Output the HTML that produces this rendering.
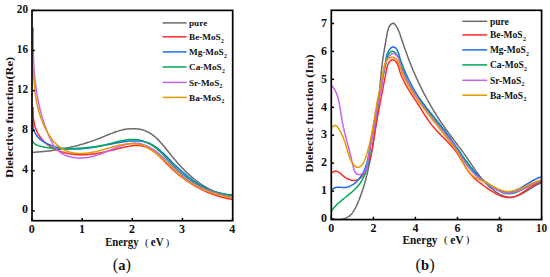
<!DOCTYPE html>
<html><head><meta charset="utf-8"><style>
html,body{margin:0;padding:0;background:#fff;width:550px;height:277px;overflow:hidden}
svg{display:block;position:absolute;left:0;top:0}
text{font-family:"Liberation Serif",serif}
</style></head><body>
<svg xmlns="http://www.w3.org/2000/svg" width="550" height="277" viewBox="0 0 550 277">
<defs><clipPath id="cl"><rect x="32" y="10.4" width="200.7" height="210.29999999999998"/></clipPath><clipPath id="cr"><rect x="331.3" y="10.3" width="210.3" height="209.29999999999998"/></clipPath></defs>
<g font-family="Liberation Serif, serif" font-weight="bold" fill="#111">
<g clip-path="url(#cl)" fill="none" stroke-width="1.5" stroke-linejoin="round" stroke-linecap="round"><path d="M32.5,152.4 L34.0,152.3 L35.6,152.2 L37.1,152.0 L38.6,151.9 L40.1,151.8 L41.6,151.7 L43.1,151.5 L44.6,151.4 L46.1,151.2 L47.6,151.0 L49.1,150.9 L50.6,150.7 L52.1,150.5 L53.6,150.3 L55.0,150.1 L56.5,149.8 L58.0,149.6 L59.4,149.4 L60.9,149.1 L62.4,148.9 L63.8,148.6 L65.3,148.3 L66.7,148.0 L68.2,147.7 L69.6,147.4 L71.1,147.1 L72.5,146.7 L74.0,146.4 L75.4,146.0 L76.8,145.7 L78.3,145.3 L79.7,144.9 L81.1,144.5 L82.6,144.1 L84.0,143.7 L85.4,143.2 L86.9,142.8 L88.3,142.3 L89.7,141.9 L91.1,141.4 L92.5,140.9 L94.0,140.4 L95.4,139.9 L96.8,139.4 L98.2,138.8 L99.6,138.3 L101.0,137.7 L102.4,137.1 L103.9,136.5 L105.3,135.9 L106.7,135.3 L108.1,134.8 L109.5,134.2 L110.9,133.6 L112.4,133.1 L113.8,132.5 L115.2,132.0 L116.7,131.5 L118.1,131.1 L119.6,130.6 L121.0,130.3 L122.5,129.9 L123.9,129.6 L125.4,129.3 L126.9,129.1 L128.4,128.9 L129.8,128.8 L131.3,128.7 L132.8,128.7 L134.3,128.7 L135.7,128.8 L137.2,128.9 L138.6,129.1 L140.0,129.3 L141.4,129.6 L142.8,130.0 L144.2,130.4 L145.5,130.9 L146.8,131.5 L148.1,132.1 L149.4,132.8 L150.6,133.5 L151.8,134.3 L153.0,135.2 L154.1,136.1 L155.2,137.0 L156.3,138.0 L157.4,139.1 L158.5,140.1 L159.5,141.2 L160.6,142.4 L161.6,143.5 L162.6,144.7 L163.6,145.9 L164.6,147.1 L165.6,148.3 L166.5,149.5 L167.5,150.7 L168.5,151.9 L169.4,153.1 L170.4,154.3 L171.3,155.5 L172.3,156.7 L173.3,157.8 L174.2,159.0 L175.2,160.1 L176.2,161.3 L177.1,162.4 L178.1,163.5 L179.1,164.6 L180.1,165.7 L181.1,166.8 L182.1,167.9 L183.2,168.9 L184.2,170.0 L185.3,171.1 L186.3,172.1 L187.4,173.1 L188.5,174.1 L189.6,175.2 L190.7,176.1 L191.8,177.1 L193.0,178.1 L194.1,179.0 L195.3,180.0 L196.5,180.9 L197.7,181.8 L198.9,182.7 L200.1,183.5 L201.3,184.4 L202.6,185.2 L203.8,186.0 L205.1,186.7 L206.4,187.5 L207.7,188.2 L209.0,188.9 L210.4,189.6 L211.7,190.2 L213.1,190.8 L214.4,191.4 L215.8,191.9 L217.2,192.4 L218.7,192.9 L220.1,193.3 L221.5,193.7 L223.0,194.1 L224.5,194.4 L225.9,194.7 L227.4,195.0 L229.0,195.2 L230.5,195.4 L232.0,195.5" stroke="#6b6b6b"/><path d="M33.1,107.5 L33.1,109.0 L33.1,110.4 L33.1,111.9 L33.2,113.4 L33.2,115.0 L33.3,116.5 L33.5,118.0 L33.6,119.5 L33.8,121.0 L34.1,122.5 L34.4,124.0 L34.7,125.5 L35.1,126.9 L35.6,128.3 L36.1,129.7 L36.7,131.1 L37.3,132.5 L38.0,133.8 L38.8,135.0 L39.6,136.3 L40.5,137.5 L41.4,138.6 L42.4,139.8 L43.4,140.9 L44.4,141.9 L45.6,142.9 L46.7,143.9 L47.9,144.8 L49.1,145.7 L50.3,146.5 L51.6,147.3 L52.9,148.0 L54.2,148.7 L55.6,149.4 L56.9,150.0 L58.3,150.6 L59.7,151.2 L61.1,151.7 L62.6,152.1 L64.0,152.5 L65.5,152.9 L67.0,153.3 L68.4,153.6 L69.9,153.9 L71.4,154.1 L72.9,154.3 L74.4,154.5 L75.9,154.6 L77.4,154.7 L78.9,154.8 L80.4,154.8 L81.8,154.8 L83.3,154.8 L84.8,154.8 L86.3,154.7 L87.7,154.6 L89.2,154.5 L90.7,154.3 L92.2,154.1 L93.6,153.9 L95.1,153.7 L96.6,153.5 L98.0,153.2 L99.5,153.0 L101.0,152.7 L102.4,152.4 L103.9,152.1 L105.4,151.8 L106.8,151.4 L108.3,151.1 L109.8,150.7 L111.3,150.4 L112.7,150.0 L114.2,149.6 L115.7,149.3 L117.2,148.9 L118.7,148.5 L120.2,148.1 L121.7,147.8 L123.2,147.4 L124.6,147.1 L126.1,146.7 L127.6,146.4 L129.1,146.2 L130.6,145.9 L132.1,145.7 L133.6,145.6 L135.0,145.5 L136.5,145.5 L138.0,145.5 L139.4,145.6 L140.8,145.8 L142.2,146.1 L143.6,146.4 L145.0,146.9 L146.4,147.4 L147.7,147.9 L149.0,148.6 L150.3,149.3 L151.6,150.0 L152.8,150.8 L154.0,151.7 L155.1,152.6 L156.3,153.5 L157.4,154.5 L158.6,155.5 L159.7,156.5 L160.7,157.6 L161.8,158.7 L162.9,159.8 L164.0,160.9 L165.0,162.0 L166.1,163.1 L167.2,164.2 L168.3,165.3 L169.4,166.3 L170.5,167.4 L171.6,168.4 L172.7,169.5 L173.8,170.5 L174.9,171.5 L176.1,172.5 L177.2,173.5 L178.4,174.4 L179.5,175.4 L180.7,176.3 L181.9,177.2 L183.1,178.1 L184.3,179.0 L185.5,179.9 L186.7,180.8 L187.9,181.6 L189.2,182.4 L190.4,183.2 L191.7,184.0 L192.9,184.8 L194.2,185.5 L195.5,186.3 L196.8,187.0 L198.1,187.7 L199.4,188.4 L200.7,189.1 L202.0,189.7 L203.4,190.4 L204.7,191.0 L206.1,191.6 L207.4,192.2 L208.8,192.8 L210.2,193.3 L211.6,193.9 L213.0,194.4 L214.4,194.9 L215.8,195.3 L217.3,195.8 L218.7,196.2 L220.1,196.7 L221.6,197.1 L223.1,197.5 L224.6,197.8 L226.0,198.2 L227.5,198.5 L229.0,198.8 L230.6,199.1 L232.1,199.4" stroke="#ff2a2a"/><path d="M33.2,120.8 L33.0,122.5 L33.0,124.1 L33.0,125.7 L33.2,127.2 L33.5,128.7 L33.9,130.1 L34.4,131.5 L35.0,132.8 L35.7,134.1 L36.5,135.3 L37.4,136.5 L38.3,137.6 L39.4,138.6 L40.5,139.6 L41.7,140.5 L42.9,141.3 L44.2,142.1 L45.5,142.9 L46.9,143.6 L48.3,144.2 L49.7,144.8 L51.2,145.4 L52.6,145.9 L54.1,146.4 L55.6,146.8 L57.0,147.2 L58.5,147.5 L59.9,147.8 L61.4,148.1 L62.9,148.3 L64.3,148.5 L65.8,148.7 L67.2,148.9 L68.7,149.0 L70.2,149.0 L71.6,149.1 L73.1,149.1 L74.6,149.1 L76.0,149.1 L77.5,149.0 L79.0,149.0 L80.5,148.9 L81.9,148.8 L83.4,148.6 L84.9,148.5 L86.4,148.3 L87.8,148.1 L89.3,147.9 L90.8,147.7 L92.3,147.5 L93.8,147.2 L95.2,147.0 L96.7,146.7 L98.2,146.5 L99.7,146.2 L101.2,145.9 L102.7,145.6 L104.2,145.3 L105.7,145.1 L107.2,144.8 L108.7,144.5 L110.2,144.2 L111.7,143.9 L113.2,143.6 L114.7,143.3 L116.2,143.1 L117.8,142.8 L119.3,142.5 L120.8,142.3 L122.3,142.0 L123.8,141.8 L125.4,141.6 L126.9,141.4 L128.4,141.2 L129.9,141.1 L131.4,141.0 L132.9,140.9 L134.4,140.9 L135.9,140.9 L137.3,140.9 L138.8,141.0 L140.2,141.1 L141.7,141.3 L143.1,141.5 L144.5,141.8 L145.8,142.1 L147.2,142.5 L148.5,143.0 L149.8,143.5 L151.1,144.1 L152.4,144.8 L153.6,145.5 L154.8,146.3 L156.1,147.1 L157.2,148.0 L158.4,149.0 L159.6,149.9 L160.7,151.0 L161.8,152.0 L163.0,153.0 L164.1,154.1 L165.2,155.2 L166.3,156.3 L167.4,157.4 L168.5,158.5 L169.6,159.6 L170.7,160.7 L171.7,161.8 L172.8,162.9 L173.9,164.0 L175.0,165.0 L176.1,166.1 L177.2,167.2 L178.4,168.2 L179.5,169.2 L180.6,170.2 L181.7,171.3 L182.8,172.2 L183.9,173.2 L185.1,174.2 L186.2,175.1 L187.4,176.1 L188.5,177.0 L189.7,177.9 L190.9,178.8 L192.0,179.7 L193.2,180.5 L194.4,181.4 L195.6,182.2 L196.9,183.0 L198.1,183.8 L199.3,184.5 L200.6,185.3 L201.9,186.0 L203.1,186.7 L204.4,187.4 L205.7,188.0 L207.1,188.6 L208.4,189.2 L209.8,189.8 L211.1,190.4 L212.5,190.9 L213.9,191.4 L215.3,191.8 L216.8,192.3 L218.2,192.7 L219.7,193.1 L221.2,193.4 L222.7,193.7 L224.2,194.0 L225.8,194.3 L227.4,194.5 L229.0,194.7 L230.6,194.8 L232.2,195.0" stroke="#1a6fe8"/><path d="M32.5,141.2 L33.3,142.5 L34.3,143.5 L35.4,144.4 L36.7,145.0 L38.1,145.6 L39.5,146.0 L40.9,146.3 L42.4,146.7 L43.9,147.0 L45.3,147.3 L46.8,147.5 L48.3,147.7 L49.8,147.9 L51.3,148.1 L52.8,148.2 L54.3,148.3 L55.8,148.5 L57.3,148.5 L58.8,148.6 L60.3,148.6 L61.8,148.7 L63.4,148.7 L64.9,148.7 L66.4,148.7 L67.9,148.7 L69.4,148.6 L70.9,148.6 L72.4,148.5 L73.9,148.5 L75.4,148.4 L76.9,148.3 L78.4,148.3 L79.9,148.2 L81.4,148.1 L82.8,148.0 L84.3,147.9 L85.8,147.7 L87.3,147.6 L88.7,147.5 L90.2,147.3 L91.7,147.1 L93.2,147.0 L94.6,146.8 L96.1,146.5 L97.6,146.3 L99.0,146.1 L100.5,145.8 L102.0,145.5 L103.5,145.2 L104.9,144.9 L106.4,144.5 L107.9,144.1 L109.4,143.8 L110.9,143.4 L112.4,143.0 L113.9,142.6 L115.3,142.2 L116.8,141.8 L118.3,141.4 L119.8,141.1 L121.3,140.7 L122.8,140.4 L124.3,140.2 L125.7,139.9 L127.2,139.7 L128.7,139.5 L130.2,139.4 L131.6,139.4 L133.1,139.4 L134.6,139.4 L136.0,139.6 L137.5,139.7 L138.9,140.0 L140.3,140.3 L141.8,140.7 L143.2,141.1 L144.6,141.6 L145.9,142.2 L147.3,142.8 L148.6,143.4 L150.0,144.1 L151.3,144.8 L152.5,145.6 L153.8,146.4 L155.0,147.3 L156.2,148.2 L157.3,149.1 L158.4,150.1 L159.6,151.1 L160.6,152.1 L161.7,153.2 L162.8,154.2 L163.8,155.3 L164.8,156.4 L165.9,157.5 L166.9,158.6 L167.9,159.8 L168.9,160.9 L170.0,162.0 L171.0,163.1 L172.0,164.2 L173.1,165.3 L174.1,166.4 L175.2,167.4 L176.3,168.5 L177.4,169.5 L178.5,170.5 L179.6,171.5 L180.8,172.5 L181.9,173.5 L183.1,174.5 L184.2,175.4 L185.4,176.3 L186.6,177.3 L187.8,178.2 L189.0,179.0 L190.3,179.9 L191.5,180.7 L192.7,181.5 L194.0,182.3 L195.3,183.1 L196.5,183.9 L197.8,184.6 L199.1,185.3 L200.5,186.0 L201.8,186.7 L203.1,187.4 L204.5,188.0 L205.8,188.6 L207.2,189.2 L208.6,189.7 L210.0,190.3 L211.4,190.8 L212.8,191.3 L214.2,191.7 L215.6,192.1 L217.1,192.5 L218.5,192.9 L220.0,193.3 L221.4,193.6 L222.9,193.9 L224.4,194.1 L225.9,194.4 L227.4,194.6 L229.0,194.7 L230.5,194.9 L232.0,195.0" stroke="#00a859"/><path d="M33.2,28.0 L33.2,29.5 L33.2,31.0 L33.2,32.5 L33.2,34.0 L33.1,35.5 L33.1,37.0 L33.1,38.5 L33.1,40.0 L33.1,41.5 L33.2,43.0 L33.2,44.5 L33.2,46.0 L33.2,47.5 L33.2,49.0 L33.3,50.5 L33.3,52.0 L33.3,53.5 L33.4,55.0 L33.4,56.5 L33.5,58.0 L33.5,59.5 L33.6,61.0 L33.7,62.5 L33.8,64.0 L33.8,65.5 L33.9,67.0 L34.0,68.5 L34.1,70.0 L34.2,71.5 L34.4,72.9 L34.5,74.4 L34.6,75.9 L34.8,77.4 L34.9,78.9 L35.1,80.4 L35.2,81.9 L35.4,83.4 L35.6,84.9 L35.8,86.3 L36.0,87.8 L36.2,89.3 L36.4,90.8 L36.6,92.3 L36.9,93.7 L37.1,95.2 L37.4,96.7 L37.6,98.1 L37.9,99.6 L38.2,101.1 L38.5,102.5 L38.8,104.0 L39.1,105.4 L39.5,106.9 L39.8,108.3 L40.2,109.8 L40.5,111.2 L40.9,112.7 L41.3,114.1 L41.7,115.5 L42.1,117.0 L42.6,118.4 L43.0,119.8 L43.5,121.3 L43.9,122.7 L44.4,124.1 L44.9,125.5 L45.4,126.9 L45.9,128.3 L46.5,129.8 L47.0,131.2 L47.6,132.6 L48.2,134.0 L48.7,135.4 L49.4,136.9 L50.0,138.3 L50.6,139.7 L51.3,141.1 L52.0,142.4 L52.7,143.8 L53.5,145.1 L54.3,146.3 L55.2,147.5 L56.1,148.6 L57.1,149.7 L58.2,150.7 L59.3,151.6 L60.4,152.5 L61.6,153.3 L62.9,154.0 L64.2,154.7 L65.5,155.3 L66.9,155.8 L68.3,156.3 L69.7,156.7 L71.1,157.1 L72.6,157.4 L74.1,157.6 L75.6,157.8 L77.1,157.9 L78.6,158.0 L80.1,158.0 L81.6,158.0 L83.2,157.9 L84.7,157.8 L86.1,157.7 L87.6,157.4 L89.1,157.2 L90.5,156.9 L92.0,156.6 L93.4,156.2 L94.8,155.8 L96.3,155.4 L97.7,154.9 L99.1,154.5 L100.5,154.0 L101.9,153.4 L103.3,152.9 L104.7,152.3 L106.1,151.8 L107.5,151.2 L108.9,150.6 L110.3,150.0 L111.8,149.5 L113.2,148.9 L114.6,148.3 L116.1,147.7 L117.5,147.2 L119.0,146.6 L120.4,146.1 L121.9,145.6 L123.3,145.2 L124.8,144.7 L126.3,144.4 L127.7,144.0 L129.2,143.7 L130.7,143.5 L132.2,143.3 L133.6,143.2 L135.1,143.1 L136.5,143.2 L138.0,143.3 L139.4,143.5 L140.8,143.8 L142.1,144.1 L143.5,144.6 L144.9,145.1 L146.2,145.6 L147.5,146.2 L148.8,146.9 L150.1,147.6 L151.4,148.3 L152.7,149.1 L153.9,149.9 L155.2,150.8 L156.4,151.7 L157.6,152.6 L158.8,153.6 L159.9,154.6 L161.1,155.5 L162.2,156.6 L163.3,157.6 L164.4,158.6 L165.5,159.6 L166.6,160.7 L167.7,161.7 L168.8,162.8 L169.8,163.9 L170.9,164.9 L172.0,166.0 L173.1,167.0 L174.1,168.1 L175.2,169.1 L176.3,170.2 L177.4,171.2 L178.5,172.2 L179.6,173.2 L180.7,174.2 L181.8,175.2 L182.9,176.2 L184.1,177.1 L185.3,178.0 L186.5,178.9 L187.7,179.8 L188.9,180.6 L190.2,181.4 L191.4,182.2 L192.7,183.0 L194.0,183.8 L195.3,184.5 L196.6,185.2 L197.9,185.9 L199.3,186.6 L200.6,187.3 L202.0,187.9 L203.4,188.5 L204.8,189.1 L206.1,189.7 L207.5,190.2 L208.9,190.8 L210.4,191.3 L211.8,191.8 L213.2,192.3 L214.6,192.8 L216.1,193.2 L217.5,193.7 L219.0,194.1 L220.4,194.5 L221.9,194.9 L223.3,195.3 L224.8,195.6 L226.2,196.0 L227.6,196.3 L229.1,196.6 L230.5,196.9 L232.0,197.2" stroke="#c266f0"/><path d="M33.0,60.9 L33.1,62.4 L33.2,64.0 L33.2,65.5 L33.3,67.0 L33.4,68.5 L33.4,70.0 L33.5,71.6 L33.6,73.1 L33.7,74.6 L33.7,76.1 L33.8,77.6 L33.9,79.1 L34.0,80.5 L34.1,82.0 L34.3,83.5 L34.4,85.0 L34.5,86.5 L34.7,87.9 L34.8,89.4 L35.0,90.9 L35.1,92.4 L35.3,93.8 L35.5,95.3 L35.7,96.7 L36.0,98.2 L36.2,99.6 L36.5,101.1 L36.8,102.5 L37.0,104.0 L37.4,105.4 L37.7,106.9 L38.0,108.3 L38.4,109.7 L38.8,111.2 L39.2,112.6 L39.6,114.0 L40.1,115.5 L40.5,116.9 L41.0,118.3 L41.6,119.7 L42.1,121.2 L42.7,122.6 L43.3,124.0 L43.9,125.4 L44.5,126.8 L45.2,128.2 L45.9,129.6 L46.6,131.0 L47.4,132.4 L48.2,133.7 L49.0,135.0 L49.8,136.3 L50.7,137.6 L51.6,138.8 L52.5,140.0 L53.5,141.2 L54.5,142.3 L55.5,143.4 L56.5,144.4 L57.6,145.4 L58.7,146.4 L59.9,147.2 L61.0,148.1 L62.2,148.8 L63.5,149.5 L64.7,150.2 L66.0,150.8 L67.3,151.3 L68.7,151.7 L70.0,152.1 L71.4,152.5 L72.8,152.7 L74.3,153.0 L75.7,153.2 L77.2,153.3 L78.6,153.4 L80.1,153.4 L81.6,153.4 L83.1,153.4 L84.6,153.3 L86.2,153.2 L87.7,153.0 L89.2,152.8 L90.7,152.6 L92.2,152.3 L93.8,152.0 L95.3,151.7 L96.8,151.4 L98.3,151.0 L99.7,150.6 L101.2,150.2 L102.7,149.8 L104.2,149.4 L105.6,149.0 L107.1,148.5 L108.6,148.1 L110.0,147.7 L111.5,147.3 L112.9,146.8 L114.4,146.4 L115.9,146.0 L117.3,145.7 L118.8,145.3 L120.2,145.0 L121.7,144.7 L123.2,144.5 L124.6,144.2 L126.1,144.0 L127.6,143.9 L129.0,143.8 L130.5,143.7 L132.0,143.7 L133.5,143.8 L135.0,143.9 L136.4,144.0 L137.9,144.3 L139.3,144.5 L140.7,144.9 L142.1,145.3 L143.4,145.8 L144.8,146.3 L146.1,146.9 L147.4,147.6 L148.7,148.3 L150.0,149.0 L151.2,149.8 L152.4,150.6 L153.7,151.5 L154.9,152.4 L156.0,153.3 L157.2,154.2 L158.4,155.2 L159.5,156.2 L160.7,157.2 L161.8,158.2 L162.9,159.2 L164.1,160.3 L165.2,161.3 L166.3,162.4 L167.4,163.4 L168.5,164.4 L169.6,165.5 L170.7,166.5 L171.8,167.5 L172.8,168.6 L173.9,169.6 L175.0,170.6 L176.1,171.6 L177.2,172.6 L178.4,173.6 L179.5,174.6 L180.6,175.5 L181.7,176.5 L182.9,177.4 L184.0,178.3 L185.2,179.2 L186.4,180.1 L187.6,181.0 L188.8,181.8 L190.0,182.6 L191.3,183.4 L192.5,184.2 L193.8,185.0 L195.1,185.7 L196.5,186.4 L197.8,187.1 L199.1,187.7 L200.5,188.4 L201.9,189.0 L203.3,189.6 L204.7,190.2 L206.1,190.7 L207.5,191.3 L208.9,191.8 L210.3,192.3 L211.8,192.8 L213.2,193.2 L214.7,193.7 L216.1,194.1 L217.6,194.5 L219.0,194.9 L220.5,195.3 L221.9,195.7 L223.4,196.0 L224.8,196.4 L226.3,196.7 L227.7,197.0 L229.1,197.3 L230.6,197.6 L232.0,197.9" stroke="#e69a00"/></g>
<g clip-path="url(#cr)" fill="none" stroke-width="1.5" stroke-linejoin="round" stroke-linecap="round"><path d="M331.8,219.3 L333.2,219.4 L334.6,219.4 L336.1,219.5 L337.6,219.4 L339.2,219.4 L340.8,219.2 L342.4,219.0 L343.9,218.6 L345.4,218.2 L346.7,217.6 L348.0,216.9 L349.2,216.1 L350.2,215.2 L351.3,214.2 L352.2,213.1 L353.1,211.9 L353.9,210.7 L354.6,209.4 L355.4,208.1 L356.0,206.8 L356.7,205.4 L357.3,204.0 L357.9,202.6 L358.5,201.2 L359.1,199.8 L359.6,198.4 L360.2,196.9 L360.7,195.5 L361.2,194.1 L361.7,192.7 L362.2,191.3 L362.7,189.8 L363.1,188.4 L363.6,187.0 L364.0,185.5 L364.4,184.1 L364.9,182.7 L365.3,181.2 L365.7,179.8 L366.0,178.3 L366.4,176.9 L366.8,175.4 L367.1,174.0 L367.5,172.5 L367.8,171.1 L368.1,169.6 L368.5,168.2 L368.8,166.7 L369.1,165.3 L369.4,163.8 L369.7,162.3 L370.0,160.9 L370.2,159.4 L370.5,157.9 L370.8,156.5 L371.1,155.0 L371.4,153.5 L371.6,152.1 L371.9,150.6 L372.1,149.1 L372.4,147.7 L372.7,146.2 L372.9,144.7 L373.2,143.2 L373.4,141.8 L373.7,140.3 L373.9,138.8 L374.1,137.3 L374.4,135.9 L374.6,134.4 L374.8,132.9 L375.0,131.4 L375.3,129.9 L375.5,128.5 L375.7,127.0 L375.9,125.5 L376.1,124.0 L376.3,122.5 L376.5,121.0 L376.7,119.6 L376.9,118.1 L377.1,116.6 L377.2,115.1 L377.4,113.6 L377.6,112.1 L377.8,110.6 L377.9,109.1 L378.1,107.7 L378.2,106.2 L378.4,104.7 L378.5,103.2 L378.7,101.7 L378.8,100.2 L378.9,98.7 L379.1,97.2 L379.2,95.7 L379.3,94.2 L379.4,92.7 L379.6,91.2 L379.7,89.7 L379.8,88.2 L379.9,86.7 L380.1,85.2 L380.2,83.8 L380.3,82.3 L380.5,80.8 L380.6,79.3 L380.7,77.8 L380.9,76.3 L381.0,74.8 L381.2,73.3 L381.3,71.8 L381.5,70.4 L381.6,68.9 L381.8,67.4 L382.0,65.9 L382.1,64.4 L382.3,63.0 L382.5,61.5 L382.7,60.0 L382.9,58.5 L383.2,57.1 L383.4,55.6 L383.6,54.1 L383.8,52.6 L384.1,51.2 L384.3,49.7 L384.6,48.2 L384.8,46.7 L385.1,45.3 L385.3,43.8 L385.6,42.3 L385.9,40.8 L386.1,39.3 L386.4,37.8 L386.7,36.3 L386.9,34.8 L387.2,33.3 L387.5,31.8 L387.9,30.3 L388.3,28.9 L388.8,27.5 L389.5,26.2 L390.4,25.0 L391.5,23.9 L392.7,23.3 L393.8,23.4 L394.8,24.2 L395.8,25.4 L396.6,26.8 L397.4,28.1 L398.1,29.5 L398.7,30.9 L399.2,32.3 L399.8,33.7 L400.3,35.1 L400.7,36.5 L401.2,37.9 L401.7,39.4 L402.2,40.8 L402.6,42.2 L403.1,43.6 L403.6,45.0 L404.1,46.4 L404.6,47.9 L405.1,49.3 L405.6,50.7 L406.1,52.1 L406.6,53.5 L407.1,54.9 L407.6,56.3 L408.2,57.8 L408.7,59.2 L409.2,60.6 L409.8,62.0 L410.3,63.4 L410.9,64.7 L411.4,66.1 L412.0,67.5 L412.6,68.9 L413.1,70.3 L413.7,71.7 L414.3,73.0 L414.9,74.4 L415.5,75.8 L416.1,77.1 L416.7,78.5 L417.4,79.9 L418.0,81.2 L418.6,82.6 L419.3,83.9 L419.9,85.3 L420.6,86.6 L421.2,87.9 L421.9,89.3 L422.6,90.6 L423.2,91.9 L423.9,93.3 L424.6,94.6 L425.3,95.9 L426.0,97.2 L426.7,98.5 L427.4,99.8 L428.2,101.1 L428.9,102.4 L429.6,103.7 L430.4,105.0 L431.1,106.3 L431.9,107.6 L432.6,108.9 L433.4,110.2 L434.2,111.5 L435.0,112.7 L435.7,114.0 L436.5,115.3 L437.3,116.5 L438.1,117.8 L439.0,119.0 L439.8,120.3 L440.6,121.6 L441.5,122.8 L442.3,124.0 L443.1,125.3 L444.0,126.5 L444.9,127.8 L445.7,129.0 L446.6,130.2 L447.5,131.4 L448.4,132.6 L449.3,133.9 L450.2,135.1 L451.1,136.3 L452.0,137.5 L452.9,138.7 L453.8,139.9 L454.7,141.1 L455.6,142.3 L456.5,143.5 L457.4,144.7 L458.3,145.9 L459.2,147.1 L460.1,148.3 L461.0,149.5 L461.9,150.7 L462.8,151.9 L463.6,153.1 L464.5,154.3 L465.3,155.5 L466.2,156.7 L467.0,157.9 L467.8,159.1 L468.6,160.3 L469.4,161.5 L470.2,162.7 L471.0,163.9 L471.9,165.1 L472.7,166.3 L473.5,167.5 L474.3,168.7 L475.2,169.9 L476.0,171.1 L476.9,172.3 L477.8,173.5 L478.7,174.7 L479.6,175.9 L480.6,177.1 L481.5,178.3 L482.5,179.4 L483.5,180.6 L484.6,181.8 L485.7,183.0 L486.8,184.1 L487.9,185.2 L489.1,186.4 L490.3,187.4 L491.5,188.5 L492.7,189.5 L494.0,190.5 L495.2,191.4 L496.5,192.3 L497.8,193.1 L499.1,193.9 L500.4,194.6 L501.8,195.2 L503.1,195.8 L504.5,196.2 L505.8,196.6 L507.2,196.9 L508.5,197.1 L509.9,197.2 L511.2,197.2 L512.6,197.1 L514.0,196.8 L515.3,196.5 L516.7,196.1 L518.0,195.6 L519.4,195.0 L520.7,194.4 L522.0,193.7 L523.4,193.0 L524.7,192.2 L526.0,191.4 L527.4,190.6 L528.7,189.7 L530.0,188.9 L531.3,188.1 L532.7,187.3 L534.0,186.5 L535.3,185.7 L536.6,185.0 L537.9,184.3 L539.2,183.7 L540.5,183.2" stroke="#6b6b6b"/><path d="M331.7,172.8 L333.3,171.8 L334.7,171.3 L336.1,171.3 L337.4,171.5 L338.6,172.1 L339.7,172.9 L340.9,173.8 L342.0,174.9 L343.2,175.9 L344.5,176.9 L345.8,177.8 L347.2,178.6 L348.7,179.3 L350.2,179.8 L351.6,180.2 L353.1,180.4 L354.5,180.5 L355.8,180.3 L357.1,179.9 L358.3,179.4 L359.4,178.7 L360.5,177.9 L361.5,176.9 L362.4,175.8 L363.3,174.6 L364.2,173.3 L365.0,172.0 L365.7,170.6 L366.4,169.1 L367.0,167.7 L367.6,166.2 L368.2,164.7 L368.7,163.2 L369.2,161.8 L369.6,160.3 L370.1,158.8 L370.4,157.4 L370.8,155.9 L371.1,154.4 L371.4,153.0 L371.7,151.5 L372.0,150.1 L372.3,148.6 L372.5,147.1 L372.8,145.7 L373.0,144.2 L373.2,142.8 L373.4,141.3 L373.6,139.8 L373.9,138.4 L374.1,136.9 L374.3,135.5 L374.5,134.0 L374.8,132.5 L375.0,131.1 L375.2,129.6 L375.5,128.2 L375.7,126.7 L376.0,125.2 L376.3,123.8 L376.5,122.3 L376.8,120.8 L377.0,119.4 L377.3,117.9 L377.6,116.4 L377.8,115.0 L378.1,113.5 L378.4,112.0 L378.7,110.6 L378.9,109.1 L379.2,107.6 L379.5,106.1 L379.8,104.7 L380.1,103.2 L380.4,101.7 L380.7,100.2 L380.9,98.8 L381.2,97.3 L381.5,95.8 L381.8,94.3 L382.1,92.8 L382.4,91.4 L382.7,89.9 L383.0,88.4 L383.2,86.9 L383.5,85.4 L383.8,83.9 L384.1,82.4 L384.4,80.9 L384.7,79.4 L385.0,78.0 L385.2,76.5 L385.5,75.0 L385.8,73.5 L386.1,72.0 L386.3,70.5 L386.6,69.0 L386.9,67.5 L387.3,66.1 L387.8,64.7 L388.4,63.4 L389.1,62.2 L390.0,61.1 L391.0,60.2 L392.1,59.7 L393.3,59.8 L394.5,60.3 L395.6,61.3 L396.5,62.5 L397.3,63.8 L397.9,65.3 L398.5,66.9 L399.0,68.5 L399.5,70.0 L399.9,71.5 L400.4,73.0 L400.9,74.4 L401.4,75.8 L402.0,77.1 L402.6,78.5 L403.2,79.8 L403.8,81.2 L404.5,82.5 L405.2,83.8 L405.9,85.1 L406.6,86.4 L407.4,87.7 L408.1,88.9 L408.9,90.2 L409.7,91.4 L410.5,92.7 L411.3,94.0 L412.1,95.2 L413.0,96.5 L413.8,97.7 L414.6,99.0 L415.5,100.2 L416.3,101.5 L417.1,102.7 L417.9,104.0 L418.7,105.3 L419.5,106.6 L420.3,107.8 L421.1,109.1 L421.9,110.4 L422.7,111.7 L423.5,113.0 L424.3,114.3 L425.1,115.5 L426.0,116.8 L426.8,118.0 L427.6,119.3 L428.5,120.5 L429.3,121.7 L430.2,122.9 L431.1,124.1 L432.0,125.3 L433.0,126.4 L433.9,127.6 L434.9,128.7 L435.9,129.8 L436.9,130.9 L438.0,132.0 L439.0,133.1 L440.0,134.1 L441.1,135.2 L442.1,136.3 L443.2,137.3 L444.2,138.4 L445.3,139.4 L446.3,140.5 L447.4,141.6 L448.4,142.7 L449.4,143.8 L450.4,144.9 L451.4,146.0 L452.4,147.1 L453.4,148.3 L454.3,149.4 L455.2,150.6 L456.1,151.8 L457.0,153.1 L457.8,154.3 L458.6,155.6 L459.4,156.9 L460.2,158.2 L461.0,159.5 L461.8,160.8 L462.5,162.1 L463.3,163.4 L464.1,164.7 L464.9,166.0 L465.7,167.3 L466.5,168.5 L467.3,169.8 L468.1,171.0 L469.0,172.2 L469.9,173.3 L470.8,174.5 L471.8,175.5 L472.8,176.6 L473.8,177.6 L474.9,178.6 L476.0,179.6 L477.1,180.6 L478.2,181.5 L479.4,182.4 L480.6,183.3 L481.8,184.2 L483.0,185.1 L484.3,186.0 L485.5,187.0 L486.8,187.9 L488.1,188.8 L489.4,189.7 L490.8,190.6 L492.1,191.4 L493.5,192.2 L494.8,193.0 L496.2,193.8 L497.6,194.5 L498.9,195.1 L500.3,195.7 L501.7,196.2 L503.1,196.7 L504.5,197.0 L505.9,197.3 L507.2,197.5 L508.6,197.6 L510.0,197.5 L511.3,197.4 L512.7,197.1 L514.0,196.8 L515.4,196.3 L516.7,195.7 L518.0,195.1 L519.4,194.4 L520.7,193.6 L522.0,192.8 L523.3,192.0 L524.6,191.1 L525.9,190.2 L527.2,189.3 L528.5,188.4 L529.8,187.5 L531.2,186.7 L532.5,185.9 L533.8,185.1 L535.1,184.5 L536.5,183.9 L537.8,183.3 L539.2,182.9 L540.5,182.6" stroke="#ff2a2a"/><path d="M331.8,190.1 L333.0,188.8 L334.3,188.0 L335.6,187.5 L337.0,187.3 L338.5,187.2 L340.0,187.3 L341.5,187.4 L343.0,187.5 L344.5,187.5 L346.0,187.4 L347.4,187.1 L348.8,186.7 L350.2,186.1 L351.5,185.4 L352.8,184.7 L354.0,183.8 L355.2,182.8 L356.4,181.8 L357.4,180.7 L358.5,179.6 L359.5,178.4 L360.4,177.2 L361.2,175.9 L362.0,174.7 L362.7,173.4 L363.4,172.1 L364.1,170.7 L364.6,169.4 L365.2,168.0 L365.7,166.6 L366.1,165.2 L366.6,163.8 L367.0,162.4 L367.3,161.0 L367.7,159.5 L368.0,158.1 L368.3,156.6 L368.6,155.1 L368.9,153.7 L369.1,152.2 L369.4,150.7 L369.6,149.2 L369.9,147.8 L370.1,146.3 L370.4,144.8 L370.6,143.3 L370.9,141.9 L371.2,140.4 L371.4,138.9 L371.7,137.5 L371.9,136.0 L372.2,134.5 L372.4,133.1 L372.7,131.6 L373.0,130.1 L373.2,128.7 L373.5,127.2 L373.7,125.7 L374.0,124.2 L374.3,122.8 L374.5,121.3 L374.8,119.8 L375.0,118.3 L375.3,116.8 L375.6,115.3 L375.8,113.9 L376.1,112.4 L376.4,110.9 L376.6,109.4 L376.9,107.9 L377.2,106.5 L377.4,105.0 L377.7,103.5 L378.0,102.0 L378.2,100.5 L378.5,99.1 L378.8,97.6 L379.1,96.1 L379.3,94.6 L379.6,93.2 L379.9,91.7 L380.2,90.3 L380.5,88.8 L380.7,87.4 L381.0,85.9 L381.3,84.5 L381.6,83.0 L381.9,81.6 L382.2,80.1 L382.5,78.7 L382.8,77.2 L383.0,75.7 L383.3,74.3 L383.6,72.8 L383.9,71.3 L384.2,69.8 L384.4,68.3 L384.7,66.8 L384.9,65.3 L385.2,63.8 L385.5,62.2 L385.7,60.7 L386.0,59.1 L386.3,57.6 L386.6,56.1 L387.0,54.6 L387.5,53.2 L388.1,51.9 L388.7,50.6 L389.5,49.5 L390.5,48.4 L391.6,47.5 L392.7,47.0 L393.8,47.0 L395.0,47.5 L396.0,48.4 L396.9,49.6 L397.6,51.0 L398.2,52.4 L398.8,54.0 L399.2,55.6 L399.7,57.2 L400.2,58.7 L400.6,60.2 L401.1,61.6 L401.6,63.0 L402.1,64.4 L402.7,65.8 L403.2,67.2 L403.7,68.5 L404.3,69.8 L404.9,71.2 L405.4,72.5 L406.0,73.9 L406.6,75.2 L407.3,76.6 L407.9,77.9 L408.5,79.3 L409.2,80.6 L409.9,82.0 L410.6,83.3 L411.3,84.7 L412.0,86.0 L412.7,87.3 L413.5,88.7 L414.2,90.0 L415.0,91.3 L415.8,92.5 L416.6,93.8 L417.4,95.1 L418.2,96.3 L419.1,97.6 L419.9,98.8 L420.8,100.0 L421.6,101.2 L422.5,102.4 L423.4,103.6 L424.3,104.8 L425.2,106.0 L426.1,107.2 L427.0,108.4 L428.0,109.6 L428.9,110.7 L429.8,111.9 L430.8,113.1 L431.7,114.2 L432.6,115.4 L433.6,116.6 L434.5,117.7 L435.5,118.9 L436.4,120.0 L437.4,121.2 L438.3,122.4 L439.2,123.5 L440.2,124.7 L441.1,125.9 L442.0,127.1 L442.9,128.2 L443.9,129.4 L444.8,130.6 L445.7,131.8 L446.5,133.0 L447.4,134.2 L448.3,135.5 L449.2,136.7 L450.1,137.9 L450.9,139.1 L451.8,140.4 L452.6,141.6 L453.5,142.8 L454.4,144.1 L455.2,145.3 L456.1,146.6 L456.9,147.8 L457.8,149.0 L458.6,150.3 L459.5,151.5 L460.3,152.7 L461.2,154.0 L462.0,155.2 L462.9,156.4 L463.8,157.6 L464.6,158.8 L465.5,160.1 L466.4,161.3 L467.3,162.5 L468.1,163.6 L469.0,164.8 L469.9,166.0 L470.8,167.2 L471.8,168.3 L472.7,169.5 L473.6,170.6 L474.6,171.7 L475.5,172.8 L476.5,173.9 L477.5,175.0 L478.5,176.1 L479.5,177.2 L480.6,178.2 L481.6,179.3 L482.8,180.3 L483.9,181.3 L485.1,182.3 L486.3,183.3 L487.5,184.2 L488.8,185.1 L490.1,186.0 L491.4,186.9 L492.8,187.7 L494.2,188.4 L495.5,189.1 L496.9,189.8 L498.4,190.3 L499.8,190.8 L501.2,191.2 L502.6,191.6 L504.0,191.8 L505.5,192.0 L506.9,192.1 L508.3,192.0 L509.7,191.9 L511.1,191.6 L512.5,191.3 L513.9,190.9 L515.2,190.4 L516.6,189.8 L517.9,189.2 L519.3,188.6 L520.6,187.8 L522.0,187.1 L523.3,186.3 L524.6,185.5 L526.0,184.7 L527.3,183.9 L528.6,183.1 L530.0,182.3 L531.3,181.5 L532.6,180.7 L533.9,180.0 L535.3,179.3 L536.6,178.6 L537.9,178.0 L539.2,177.5 L540.6,177.0" stroke="#1a6fe8"/><path d="M331.9,210.5 L332.7,209.3 L333.6,208.1 L334.6,207.0 L335.6,205.9 L336.6,204.8 L337.7,203.8 L338.8,202.8 L339.9,201.8 L341.1,200.8 L342.2,199.8 L343.4,198.9 L344.6,198.0 L345.8,197.0 L347.0,196.1 L348.2,195.1 L349.4,194.2 L350.5,193.2 L351.7,192.3 L352.8,191.3 L353.9,190.3 L355.0,189.2 L356.0,188.2 L357.0,187.1 L358.0,185.9 L358.9,184.8 L359.8,183.6 L360.6,182.3 L361.4,181.1 L362.2,179.8 L362.9,178.5 L363.6,177.2 L364.2,175.9 L364.8,174.5 L365.4,173.2 L365.9,171.8 L366.4,170.4 L366.8,168.9 L367.2,167.5 L367.6,166.1 L367.9,164.6 L368.2,163.2 L368.5,161.7 L368.8,160.2 L369.0,158.8 L369.2,157.3 L369.4,155.8 L369.6,154.3 L369.8,152.8 L369.9,151.3 L370.1,149.8 L370.2,148.3 L370.4,146.8 L370.5,145.3 L370.7,143.8 L370.9,142.3 L371.1,140.8 L371.3,139.3 L371.5,137.9 L371.7,136.4 L372.0,134.9 L372.3,133.5 L372.5,132.0 L372.8,130.6 L373.1,129.1 L373.4,127.6 L373.8,126.2 L374.1,124.7 L374.4,123.3 L374.7,121.8 L375.0,120.3 L375.2,118.9 L375.5,117.4 L375.8,115.9 L376.1,114.4 L376.3,113.0 L376.6,111.5 L376.9,110.0 L377.1,108.5 L377.4,107.0 L377.7,105.5 L377.9,104.0 L378.2,102.6 L378.4,101.1 L378.7,99.6 L378.9,98.1 L379.2,96.6 L379.4,95.2 L379.7,93.7 L380.0,92.2 L380.2,90.8 L380.5,89.3 L380.7,87.8 L381.0,86.4 L381.3,84.9 L381.6,83.5 L381.9,82.1 L382.1,80.6 L382.4,79.2 L382.7,77.7 L383.0,76.3 L383.3,74.8 L383.6,73.4 L384.0,71.9 L384.3,70.4 L384.6,69.0 L384.9,67.5 L385.3,66.0 L385.6,64.5 L386.0,63.0 L386.3,61.4 L386.7,59.9 L387.1,58.3 L387.5,56.7 L388.0,55.2 L388.7,53.9 L389.6,52.7 L390.7,51.7 L391.9,51.2 L393.1,51.3 L394.3,51.9 L395.3,52.8 L396.2,53.9 L397.1,55.0 L397.9,56.1 L398.6,57.4 L399.3,58.6 L399.9,59.9 L400.5,61.3 L401.0,62.7 L401.6,64.1 L402.1,65.5 L402.5,67.0 L403.0,68.5 L403.5,69.9 L403.9,71.4 L404.4,72.9 L404.9,74.3 L405.4,75.8 L406.0,77.2 L406.6,78.6 L407.2,80.0 L407.8,81.3 L408.5,82.7 L409.2,84.0 L409.9,85.3 L410.7,86.6 L411.4,87.9 L412.2,89.1 L413.0,90.4 L413.8,91.6 L414.7,92.9 L415.5,94.1 L416.3,95.3 L417.2,96.6 L418.1,97.8 L418.9,99.0 L419.8,100.2 L420.7,101.4 L421.6,102.6 L422.5,103.8 L423.4,105.0 L424.3,106.2 L425.2,107.4 L426.1,108.6 L427.0,109.8 L427.9,111.0 L428.8,112.1 L429.8,113.3 L430.7,114.5 L431.6,115.7 L432.5,116.9 L433.4,118.1 L434.4,119.2 L435.3,120.4 L436.2,121.6 L437.1,122.8 L438.1,124.0 L439.0,125.2 L439.9,126.3 L440.8,127.5 L441.7,128.7 L442.7,129.9 L443.6,131.1 L444.5,132.3 L445.4,133.5 L446.3,134.7 L447.2,135.9 L448.0,137.1 L448.9,138.3 L449.8,139.5 L450.7,140.7 L451.6,141.9 L452.5,143.1 L453.3,144.3 L454.2,145.5 L455.1,146.7 L456.0,147.9 L456.9,149.1 L457.7,150.3 L458.6,151.5 L459.5,152.7 L460.4,153.9 L461.3,155.2 L462.1,156.4 L463.0,157.6 L463.9,158.8 L464.8,160.0 L465.7,161.2 L466.6,162.4 L467.5,163.6 L468.4,164.8 L469.3,166.0 L470.2,167.2 L471.1,168.4 L472.0,169.6 L472.9,170.8 L473.9,172.0 L474.8,173.2 L475.7,174.4 L476.7,175.5 L477.7,176.6 L478.8,177.5 L479.9,178.4 L481.1,179.2 L482.3,179.9 L483.6,180.6 L484.8,181.4 L486.1,182.2 L487.4,183.0 L488.7,183.9 L489.9,184.8 L491.2,185.7 L492.5,186.6 L493.8,187.5 L495.1,188.4 L496.4,189.3 L497.8,190.1 L499.1,190.9 L500.4,191.6 L501.8,192.2 L503.1,192.7 L504.5,193.2 L505.8,193.5 L507.2,193.7 L508.6,193.8 L510.0,193.7 L511.4,193.6 L512.8,193.3 L514.2,193.0 L515.6,192.5 L517.0,192.0 L518.4,191.4 L519.8,190.8 L521.2,190.1 L522.6,189.4 L524.1,188.6 L525.5,187.9 L526.9,187.1 L528.3,186.3 L529.7,185.6 L531.1,184.9 L532.4,184.2 L533.8,183.6 L535.2,183.0 L536.5,182.5 L537.9,182.0 L539.2,181.7 L540.5,181.5" stroke="#00a859"/><path d="M332.2,86.0 L333.0,87.1 L333.8,88.3 L334.6,89.5 L335.2,90.7 L335.9,92.0 L336.4,93.3 L336.9,94.7 L337.4,96.1 L337.9,97.5 L338.3,98.9 L338.6,100.4 L339.0,101.9 L339.3,103.4 L339.6,104.9 L339.8,106.4 L340.1,107.9 L340.3,109.4 L340.6,111.0 L340.8,112.5 L341.0,114.0 L341.3,115.6 L341.5,117.1 L341.7,118.6 L342.0,120.0 L342.3,121.5 L342.5,123.0 L342.8,124.4 L343.1,125.9 L343.4,127.3 L343.8,128.7 L344.1,130.1 L344.4,131.5 L344.7,132.9 L345.1,134.3 L345.4,135.7 L345.8,137.1 L346.2,138.5 L346.5,140.0 L346.9,141.4 L347.3,142.8 L347.6,144.2 L348.0,145.6 L348.4,147.1 L348.8,148.5 L349.2,150.0 L349.6,151.5 L349.9,153.0 L350.3,154.5 L350.7,156.0 L351.1,157.5 L351.5,159.1 L351.8,160.7 L352.2,162.3 L352.6,163.9 L353.0,165.5 L353.3,167.2 L353.8,168.7 L354.3,170.2 L354.8,171.5 L355.5,172.7 L356.2,173.6 L357.2,174.3 L358.2,174.6 L359.5,174.6 L360.9,174.3 L362.2,173.7 L363.5,172.8 L364.7,171.8 L365.5,170.7 L366.3,169.4 L366.8,168.0 L367.2,166.5 L367.5,165.0 L367.7,163.4 L367.9,161.8 L368.1,160.2 L368.2,158.6 L368.4,157.1 L368.7,155.6 L368.9,154.1 L369.2,152.6 L369.5,151.1 L369.8,149.7 L370.1,148.3 L370.5,146.9 L370.8,145.4 L371.1,144.0 L371.4,142.6 L371.7,141.1 L372.0,139.7 L372.3,138.3 L372.6,136.8 L372.9,135.3 L373.1,133.9 L373.4,132.4 L373.6,130.9 L373.9,129.4 L374.1,128.0 L374.4,126.5 L374.6,125.0 L374.8,123.5 L375.1,122.0 L375.3,120.5 L375.6,119.0 L375.8,117.5 L376.0,116.0 L376.3,114.6 L376.5,113.1 L376.8,111.6 L377.0,110.1 L377.3,108.6 L377.6,107.1 L377.9,105.7 L378.1,104.2 L378.4,102.7 L378.8,101.3 L379.1,99.8 L379.4,98.4 L379.7,96.9 L380.0,95.5 L380.3,94.1 L380.6,92.6 L381.0,91.2 L381.2,89.7 L381.5,88.2 L381.8,86.8 L382.1,85.3 L382.3,83.8 L382.5,82.3 L382.7,80.8 L382.9,79.3 L383.0,77.7 L383.2,76.2 L383.4,74.7 L383.6,73.2 L383.8,71.7 L384.0,70.2 L384.3,68.7 L384.6,67.2 L384.9,65.8 L385.3,64.3 L385.8,62.9 L386.3,61.6 L386.8,60.2 L387.5,58.9 L388.2,57.6 L389.0,56.4 L389.9,55.2 L391.0,54.2 L392.1,53.6 L393.4,53.5 L394.7,54.0 L395.9,54.9 L397.0,56.0 L397.9,57.4 L398.6,58.9 L399.2,60.5 L399.8,62.0 L400.2,63.4 L400.6,64.8 L401.0,66.3 L401.4,67.7 L401.9,69.1 L402.4,70.4 L403.0,71.8 L403.5,73.2 L404.1,74.6 L404.7,75.9 L405.4,77.3 L406.0,78.6 L406.7,79.9 L407.4,81.2 L408.1,82.6 L408.9,83.9 L409.6,85.2 L410.4,86.5 L411.1,87.8 L411.9,89.1 L412.7,90.3 L413.5,91.6 L414.3,92.9 L415.1,94.1 L415.9,95.4 L416.7,96.7 L417.6,97.9 L418.4,99.1 L419.2,100.4 L420.1,101.6 L421.0,102.8 L421.8,104.1 L422.7,105.3 L423.6,106.5 L424.5,107.7 L425.4,108.9 L426.3,110.1 L427.2,111.3 L428.1,112.5 L429.0,113.7 L429.9,114.9 L430.8,116.1 L431.7,117.2 L432.7,118.4 L433.6,119.6 L434.5,120.8 L435.5,121.9 L436.4,123.1 L437.4,124.3 L438.3,125.4 L439.2,126.6 L440.2,127.7 L441.1,128.9 L442.1,130.0 L443.0,131.2 L444.0,132.3 L444.9,133.5 L445.8,134.6 L446.8,135.8 L447.7,137.0 L448.6,138.1 L449.5,139.3 L450.4,140.5 L451.3,141.7 L452.2,142.9 L453.1,144.2 L453.9,145.4 L454.8,146.6 L455.6,147.9 L456.4,149.2 L457.3,150.5 L458.1,151.8 L458.9,153.0 L459.7,154.3 L460.5,155.6 L461.3,156.9 L462.1,158.2 L462.9,159.5 L463.8,160.8 L464.6,162.0 L465.4,163.3 L466.3,164.5 L467.2,165.7 L468.1,166.9 L469.0,168.0 L469.9,169.2 L470.9,170.3 L471.8,171.4 L472.8,172.4 L473.9,173.5 L474.9,174.4 L476.0,175.4 L477.1,176.3 L478.3,177.2 L479.5,178.1 L480.6,179.0 L481.9,179.8 L483.1,180.7 L484.3,181.6 L485.6,182.5 L486.9,183.4 L488.1,184.3 L489.4,185.2 L490.7,186.0 L492.0,186.9 L493.4,187.7 L494.7,188.5 L496.1,189.3 L497.4,190.0 L498.8,190.6 L500.1,191.2 L501.5,191.7 L502.9,192.2 L504.3,192.5 L505.7,192.8 L507.1,192.9 L508.5,193.0 L509.9,192.9 L511.3,192.7 L512.7,192.5 L514.1,192.1 L515.5,191.7 L517.0,191.3 L518.4,190.7 L519.8,190.1 L521.2,189.5 L522.6,188.9 L524.0,188.2 L525.4,187.5 L526.8,186.8 L528.2,186.1 L529.6,185.4 L531.0,184.7 L532.4,184.0 L533.8,183.4 L535.1,182.8 L536.5,182.2 L537.9,181.8 L539.2,181.3 L540.5,181.0" stroke="#c266f0"/><path d="M331.6,128.0 L332.8,126.3 L334.0,125.5 L335.1,125.4 L336.2,125.9 L337.2,126.8 L338.1,128.0 L339.0,129.3 L339.8,130.7 L340.6,132.0 L341.3,133.3 L341.9,134.7 L342.6,136.1 L343.2,137.4 L343.7,138.8 L344.2,140.2 L344.7,141.6 L345.2,143.0 L345.6,144.4 L346.1,145.9 L346.5,147.3 L346.9,148.7 L347.3,150.2 L347.7,151.6 L348.2,153.1 L348.6,154.6 L349.1,156.0 L349.6,157.5 L350.1,158.9 L350.8,160.3 L351.5,161.6 L352.3,163.0 L353.2,164.2 L354.1,165.4 L355.2,166.4 L356.4,167.1 L357.6,167.4 L358.8,167.3 L360.1,166.7 L361.2,165.8 L362.3,164.7 L363.2,163.4 L363.9,162.1 L364.5,160.7 L365.0,159.3 L365.6,157.8 L366.0,156.4 L366.5,155.0 L367.0,153.5 L367.4,152.1 L367.8,150.6 L368.2,149.2 L368.6,147.7 L369.0,146.2 L369.4,144.8 L369.7,143.3 L370.1,141.8 L370.4,140.4 L370.7,138.9 L371.0,137.4 L371.3,135.9 L371.6,134.5 L371.9,133.0 L372.2,131.5 L372.4,130.0 L372.7,128.5 L372.9,127.1 L373.2,125.6 L373.4,124.1 L373.7,122.6 L373.9,121.1 L374.2,119.6 L374.4,118.2 L374.6,116.7 L374.9,115.2 L375.1,113.7 L375.4,112.3 L375.6,110.8 L375.9,109.3 L376.1,107.9 L376.4,106.4 L376.6,104.9 L376.9,103.5 L377.1,102.0 L377.4,100.6 L377.7,99.1 L378.0,97.7 L378.3,96.2 L378.6,94.8 L378.9,93.3 L379.2,91.9 L379.5,90.4 L379.8,89.0 L380.1,87.5 L380.4,86.1 L380.7,84.6 L381.0,83.1 L381.3,81.6 L381.6,80.1 L381.9,78.6 L382.2,77.1 L382.4,75.6 L382.7,74.0 L383.0,72.5 L383.3,70.9 L383.5,69.4 L383.8,67.8 L384.2,66.3 L384.6,64.8 L385.0,63.4 L385.6,62.1 L386.3,60.9 L387.1,59.8 L388.1,58.8 L389.3,58.0 L390.6,57.4 L391.9,57.2 L393.3,57.3 L394.5,57.7 L395.6,58.5 L396.5,59.4 L397.3,60.6 L398.0,61.9 L398.6,63.4 L399.2,64.9 L399.7,66.4 L400.3,68.0 L400.8,69.5 L401.4,71.0 L402.0,72.5 L402.6,73.9 L403.2,75.3 L403.9,76.7 L404.5,78.1 L405.2,79.4 L405.8,80.8 L406.5,82.1 L407.2,83.4 L407.9,84.7 L408.7,86.0 L409.4,87.2 L410.1,88.5 L410.9,89.7 L411.7,91.0 L412.5,92.2 L413.2,93.4 L414.0,94.7 L414.9,95.9 L415.7,97.1 L416.5,98.3 L417.4,99.5 L418.2,100.7 L419.1,102.0 L419.9,103.2 L420.8,104.4 L421.7,105.6 L422.6,106.8 L423.5,108.0 L424.4,109.2 L425.3,110.4 L426.2,111.6 L427.1,112.8 L428.1,114.0 L429.0,115.2 L429.9,116.4 L430.8,117.6 L431.8,118.8 L432.7,120.0 L433.6,121.2 L434.6,122.4 L435.5,123.6 L436.5,124.7 L437.4,125.9 L438.3,127.1 L439.3,128.3 L440.2,129.5 L441.2,130.6 L442.1,131.8 L443.0,133.0 L443.9,134.2 L444.9,135.3 L445.8,136.5 L446.7,137.7 L447.6,138.8 L448.5,140.0 L449.4,141.2 L450.3,142.3 L451.2,143.5 L452.1,144.7 L452.9,145.9 L453.8,147.1 L454.6,148.3 L455.5,149.5 L456.3,150.7 L457.1,152.0 L457.9,153.3 L458.6,154.5 L459.4,155.9 L460.1,157.2 L460.9,158.5 L461.6,159.9 L462.3,161.3 L463.0,162.7 L463.7,164.0 L464.5,165.4 L465.2,166.7 L466.0,168.0 L466.8,169.3 L467.7,170.5 L468.6,171.6 L469.5,172.8 L470.5,173.8 L471.6,174.8 L472.7,175.7 L473.9,176.5 L475.1,177.3 L476.4,178.0 L477.7,178.7 L479.1,179.4 L480.5,180.0 L481.8,180.7 L483.2,181.3 L484.6,182.0 L486.0,182.7 L487.4,183.4 L488.8,184.1 L490.2,184.9 L491.6,185.6 L492.9,186.4 L494.3,187.1 L495.7,187.8 L497.0,188.4 L498.4,189.1 L499.8,189.6 L501.2,190.1 L502.6,190.5 L503.9,190.9 L505.3,191.2 L506.7,191.4 L508.2,191.4 L509.6,191.4 L511.0,191.3 L512.4,191.1 L513.9,190.8 L515.3,190.4 L516.7,190.0 L518.2,189.5 L519.6,188.9 L521.1,188.3 L522.5,187.7 L523.9,187.1 L525.4,186.4 L526.8,185.7 L528.2,185.0 L529.6,184.4 L531.0,183.7 L532.4,183.1 L533.8,182.5 L535.2,181.9 L536.5,181.4 L537.9,180.9 L539.2,180.5 L540.5,180.1" stroke="#e69a00"/></g>
<rect x="32" y="10.4" width="200.7" height="210.3" fill="none" stroke="#000" stroke-width="1.7"/>
<rect x="331.3" y="10.3" width="210.3" height="209.3" fill="none" stroke="#000" stroke-width="1.7"/>
<line x1="32" y1="210.8" x2="34.8" y2="210.8" stroke="#000" stroke-width="1.5"/>
<text x="28" y="213.3" font-size="12" text-anchor="end">0</text>
<line x1="32" y1="170.7" x2="34.8" y2="170.7" stroke="#000" stroke-width="1.5"/>
<text x="28" y="173.2" font-size="12" text-anchor="end">4</text>
<line x1="32" y1="130.6" x2="34.8" y2="130.6" stroke="#000" stroke-width="1.5"/>
<text x="28" y="133.1" font-size="12" text-anchor="end">8</text>
<line x1="32" y1="90.6" x2="34.8" y2="90.6" stroke="#000" stroke-width="1.5"/>
<text x="28" y="93.1" font-size="12" text-anchor="end" textLength="11.2" lengthAdjust="spacingAndGlyphs">12</text>
<line x1="32" y1="50.5" x2="34.8" y2="50.5" stroke="#000" stroke-width="1.5"/>
<text x="28" y="53.0" font-size="12" text-anchor="end" textLength="11.2" lengthAdjust="spacingAndGlyphs">16</text>
<line x1="32" y1="10.4" x2="34.8" y2="10.4" stroke="#000" stroke-width="1.5"/>
<text x="28" y="12.9" font-size="12" text-anchor="end" textLength="11.2" lengthAdjust="spacingAndGlyphs">20</text>
<line x1="32.0" y1="220.7" x2="32.0" y2="217.89999999999998" stroke="#000" stroke-width="1.5"/>
<text x="31.7" y="232.6" font-size="12" text-anchor="middle">0</text>
<line x1="82.2" y1="220.7" x2="82.2" y2="217.89999999999998" stroke="#000" stroke-width="1.5"/>
<text x="81.9" y="232.6" font-size="12" text-anchor="middle">1</text>
<line x1="132.3" y1="220.7" x2="132.3" y2="217.89999999999998" stroke="#000" stroke-width="1.5"/>
<text x="132.0" y="232.6" font-size="12" text-anchor="middle">2</text>
<line x1="182.4" y1="220.7" x2="182.4" y2="217.89999999999998" stroke="#000" stroke-width="1.5"/>
<text x="182.1" y="232.6" font-size="12" text-anchor="middle">3</text>
<line x1="232.6" y1="220.7" x2="232.6" y2="217.89999999999998" stroke="#000" stroke-width="1.5"/>
<text x="232.3" y="232.6" font-size="12" text-anchor="middle">4</text>
<line x1="331.3" y1="219.0" x2="334.1" y2="219.0" stroke="#000" stroke-width="1.5"/>
<text x="326.90000000000003" y="222.2" font-size="12" text-anchor="end">0</text>
<line x1="331.3" y1="191.1" x2="334.1" y2="191.1" stroke="#000" stroke-width="1.5"/>
<text x="326.90000000000003" y="194.3" font-size="12" text-anchor="end">1</text>
<line x1="331.3" y1="163.1" x2="334.1" y2="163.1" stroke="#000" stroke-width="1.5"/>
<text x="326.90000000000003" y="166.3" font-size="12" text-anchor="end">2</text>
<line x1="331.3" y1="135.2" x2="334.1" y2="135.2" stroke="#000" stroke-width="1.5"/>
<text x="326.90000000000003" y="138.4" font-size="12" text-anchor="end">3</text>
<line x1="331.3" y1="107.3" x2="334.1" y2="107.3" stroke="#000" stroke-width="1.5"/>
<text x="326.90000000000003" y="110.5" font-size="12" text-anchor="end">4</text>
<line x1="331.3" y1="79.3" x2="334.1" y2="79.3" stroke="#000" stroke-width="1.5"/>
<text x="326.90000000000003" y="82.5" font-size="12" text-anchor="end">5</text>
<line x1="331.3" y1="51.4" x2="334.1" y2="51.4" stroke="#000" stroke-width="1.5"/>
<text x="326.90000000000003" y="54.6" font-size="12" text-anchor="end">6</text>
<line x1="331.3" y1="23.5" x2="334.1" y2="23.5" stroke="#000" stroke-width="1.5"/>
<text x="326.90000000000003" y="26.7" font-size="12" text-anchor="end">7</text>
<line x1="331.3" y1="219.6" x2="331.3" y2="216.79999999999998" stroke="#000" stroke-width="1.5"/>
<text x="331.3" y="231.5" font-size="12" text-anchor="middle">0</text>
<line x1="373.4" y1="219.6" x2="373.4" y2="216.79999999999998" stroke="#000" stroke-width="1.5"/>
<text x="373.4" y="231.5" font-size="12" text-anchor="middle">2</text>
<line x1="415.4" y1="219.6" x2="415.4" y2="216.79999999999998" stroke="#000" stroke-width="1.5"/>
<text x="415.4" y="231.5" font-size="12" text-anchor="middle">4</text>
<line x1="457.5" y1="219.6" x2="457.5" y2="216.79999999999998" stroke="#000" stroke-width="1.5"/>
<text x="457.5" y="231.5" font-size="12" text-anchor="middle">6</text>
<line x1="499.5" y1="219.6" x2="499.5" y2="216.79999999999998" stroke="#000" stroke-width="1.5"/>
<text x="499.5" y="231.5" font-size="12" text-anchor="middle">8</text>
<line x1="541.6" y1="219.6" x2="541.6" y2="216.79999999999998" stroke="#000" stroke-width="1.5"/>
<text x="541.6" y="231.5" font-size="12" text-anchor="middle" textLength="11.2" lengthAdjust="spacingAndGlyphs">10</text>
<text x="105.2" y="246.1" font-size="11.80" textLength="33.40" lengthAdjust="spacingAndGlyphs">Energy</text><text x="145.00" y="245.6" font-size="10.50" font-weight="normal">(</text><text x="150.80" y="246.1" font-size="11.50" textLength="12.90" lengthAdjust="spacingAndGlyphs">eV</text><text x="165.70" y="245.6" font-size="10.50" font-weight="normal">)</text>
<text x="402.4" y="243.7" font-size="12.37" textLength="35.00" lengthAdjust="spacingAndGlyphs">Energy</text><text x="444.11" y="243.2" font-size="11.00" font-weight="normal">(</text><text x="450.19" y="243.7" font-size="12.05" textLength="13.52" lengthAdjust="spacingAndGlyphs">eV</text><text x="465.80" y="243.2" font-size="11.00" font-weight="normal">)</text>
<text transform="translate(13.2,178) rotate(-90)" font-size="11.2" textLength="121" lengthAdjust="spacingAndGlyphs">Dielective function(Re)</text>
<text transform="translate(312.5,172.6) rotate(-90)" font-size="11" textLength="118.2" lengthAdjust="spacingAndGlyphs">Dielectic function (Im)</text>
<line x1="162.6" y1="22.9" x2="186.6" y2="22.9" stroke="#6b6b6b" stroke-width="1.5"/><text x="189.0" y="26.2" font-size="9.2">pure</text><line x1="162.6" y1="36.8" x2="186.6" y2="36.8" stroke="#ff2a2a" stroke-width="1.5"/><text x="189.0" y="40.1" font-size="9.2">Be-MoS<tspan font-size="5.70" dx="0.3" dy="2.4">2</tspan></text><line x1="162.6" y1="51.9" x2="186.6" y2="51.9" stroke="#1a6fe8" stroke-width="1.5"/><text x="189.0" y="55.2" font-size="9.2">Mg-MoS<tspan font-size="5.70" dx="0.3" dy="2.4">2</tspan></text><line x1="162.6" y1="67.0" x2="186.6" y2="67.0" stroke="#00a859" stroke-width="1.5"/><text x="189.0" y="70.3" font-size="9.2">Ca-MoS<tspan font-size="5.70" dx="0.3" dy="2.4">2</tspan></text><line x1="162.6" y1="82.4" x2="186.6" y2="82.4" stroke="#c266f0" stroke-width="1.5"/><text x="189.0" y="85.7" font-size="9.2">Sr-MoS<tspan font-size="5.70" dx="0.3" dy="2.4">2</tspan></text><line x1="162.6" y1="97.4" x2="186.6" y2="97.4" stroke="#e69a00" stroke-width="1.5"/><text x="189.0" y="100.7" font-size="9.2">Ba-MoS<tspan font-size="5.70" dx="0.3" dy="2.4">2</tspan></text>
<line x1="462.3" y1="21.3" x2="487.2" y2="21.3" stroke="#6b6b6b" stroke-width="1.5"/><text x="489.9" y="24.8" font-size="9.5">pure</text><line x1="462.3" y1="34.9" x2="487.2" y2="34.9" stroke="#ff2a2a" stroke-width="1.5"/><text x="489.9" y="38.4" font-size="9.5">Be-MoS<tspan font-size="5.89" dx="0.3" dy="2.3">2</tspan></text><line x1="462.3" y1="49.9" x2="487.2" y2="49.9" stroke="#1a6fe8" stroke-width="1.5"/><text x="489.9" y="53.4" font-size="9.5">Mg-MoS<tspan font-size="5.89" dx="0.3" dy="2.3">2</tspan></text><line x1="462.3" y1="64.9" x2="487.2" y2="64.9" stroke="#00a859" stroke-width="1.5"/><text x="489.9" y="68.4" font-size="9.5">Ca-MoS<tspan font-size="5.89" dx="0.3" dy="2.3">2</tspan></text><line x1="462.3" y1="80.3" x2="487.2" y2="80.3" stroke="#c266f0" stroke-width="1.5"/><text x="489.9" y="83.8" font-size="9.5">Sr-MoS<tspan font-size="5.89" dx="0.3" dy="2.3">2</tspan></text><line x1="462.3" y1="95.2" x2="487.2" y2="95.2" stroke="#e69a00" stroke-width="1.5"/><text x="489.9" y="98.7" font-size="9.5">Ba-MoS<tspan font-size="5.89" dx="0.3" dy="2.3">2</tspan></text>
<text x="112.7" y="269.8" font-size="16.5" font-weight="normal">(<tspan font-weight="bold" font-size="14.5">a</tspan>)</text>
<text x="415.6" y="270.2" font-size="16.5" font-weight="normal">(<tspan font-weight="bold" font-size="14.5">b</tspan>)</text>
</g></svg>
</body></html>
